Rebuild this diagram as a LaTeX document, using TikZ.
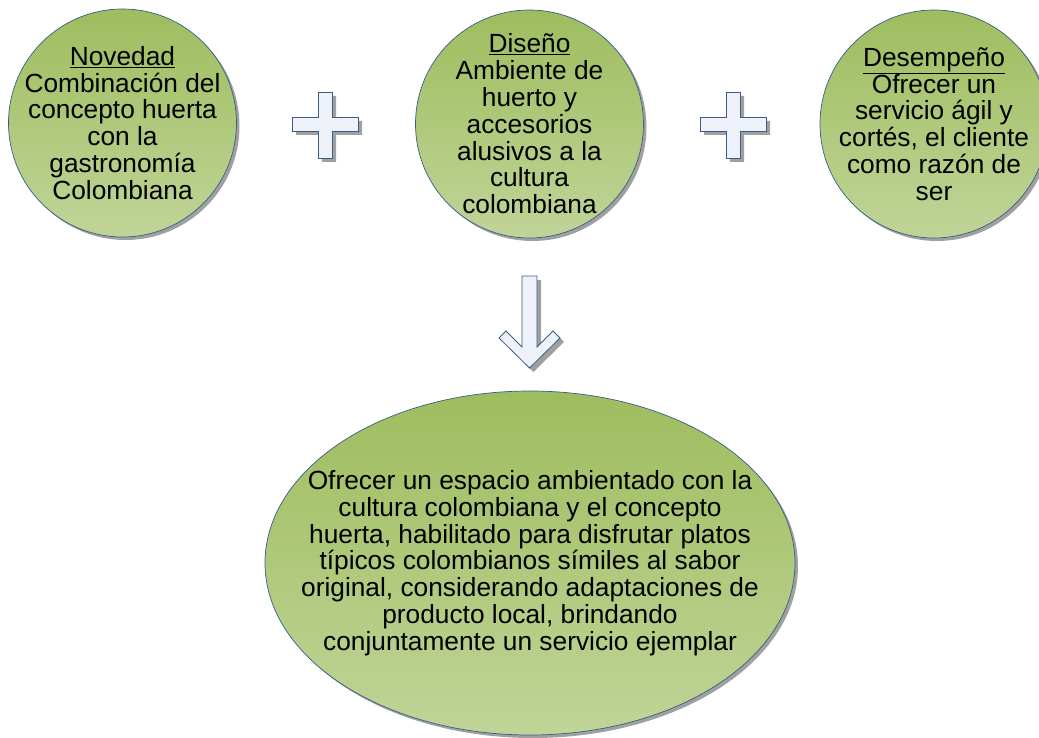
\documentclass[tikz,border=0pt]{standalone}
\usepackage{fontspec}
\setmainfont{Liberation Sans}
\usetikzlibrary{shapes.geometric,shadows}
\definecolor{gtop}{HTML}{9EBD5E}
\definecolor{gbot}{HTML}{C0D498}
\definecolor{edgeblue}{HTML}{385D8A}
\definecolor{plusfill}{HTML}{EEF2F8}
\definecolor{shadowc}{HTML}{A0A0A0}
\begin{document}
\begin{tikzpicture}[x=1pt,y=-1pt,
  greenshape/.style={draw=edgeblue, line width=0.7pt, top color=gtop, bottom color=gbot,
    inner sep=0pt, outer sep=0pt,
    drop shadow={shadow xshift=3pt, shadow yshift=-3pt, fill=shadowc, opacity=1}},
  bubble/.style={greenshape, circle, minimum size=228pt},
  bigoval/.style={greenshape, ellipse, minimum width=530pt, minimum height=344pt},
  label/.style={inner sep=0pt, align=center, font=\fontsize{26.3}{26.8}\selectfont},
  symbolshape/.style={draw=edgeblue, line width=0.8pt, fill=plusfill, line join=miter},
  symbolshadow/.style={fill=shadowc, draw=none}
]
\useasboundingbox (0,0) rectangle (1039,738);

% plus signs
\foreach \cx in {325, 733}{
  \fill[symbolshadow, shift={(\cx+4,128)}]
    (-7,-32) -- (7,-32) -- (7,-7) -- (33,-7) -- (33,7) -- (7,7) -- (7,34) -- (-7,34)
    -- (-7,7) -- (-33,7) -- (-33,-7) -- (-7,-7) -- cycle;
  \draw[symbolshape, shift={(\cx,124)}]
    (-7,-32) -- (7,-32) -- (7,-7) -- (33,-7) -- (33,7) -- (7,7) -- (7,34) -- (-7,34)
    -- (-7,7) -- (-33,7) -- (-33,-7) -- (-7,-7) -- cycle;
}

% down arrow
\fill[symbolshadow, shift={(4,4)}]
  (522,276) -- (537,276) -- (537,347) -- (553,331) -- (560,338) -- (529.5,368)
  -- (499,338) -- (506,331) -- (522,347) -- cycle;
\draw[symbolshape]
  (522,276) -- (537,276) -- (537,347) -- (553,331) -- (560,338) -- (529.5,368)
  -- (499,338) -- (506,331) -- (522,347) -- cycle;

\node[bubble] (novedad) at (122.5,123) {};
\node[label] (novedadtxt) at (novedad.center)
  {\underline{Novedad}\\Combinación del\\concepto huerta\\con la\\gastronomía\\Colombiana};
\node[bubble] (diseno) at (529.5,124) {};
\node[label] (disenotxt) at (diseno.center)
  {\underline{Diseño}\\Ambiente de\\huerto y\\accesorios\\alusivos a la\\cultura\\colombiana};
\node[bubble] (desempeno) at (934,124) {};
\node[label] (desempenotxt) at (desempeno.center)
  {\underline{Desempeño}\\Ofrecer un\\servicio ágil y\\cortés, el cliente\\como razón de\\ser};
\node[bigoval] (propuesta) at (530,563) {};
\node[label] (propuestatxt) at (propuesta.center)
  {Ofrecer un espacio ambientado con la\\cultura colombiana y el concepto\\huerta, habilitado para disfrutar platos\\típicos colombianos símiles al sabor\\original, considerando adaptaciones de\\producto local, brindando\\conjuntamente un servicio ejemplar};
\end{tikzpicture}
\end{document}
